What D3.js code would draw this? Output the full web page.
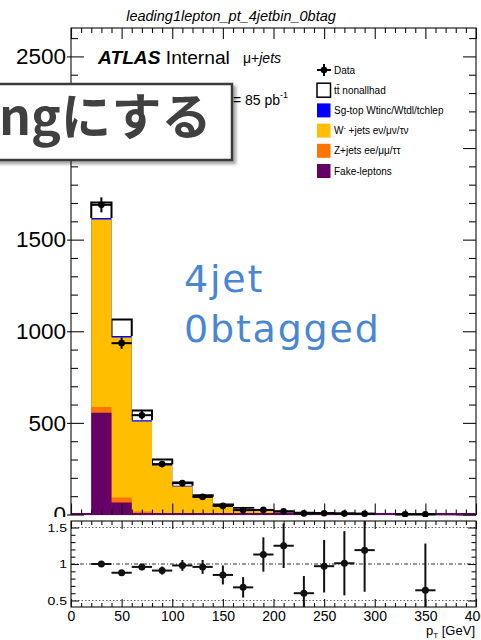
<!DOCTYPE html>
<html><head><meta charset="utf-8">
<script src="https://cdn.jsdelivr.net/npm/d3@7"></script>
<style>html,body{margin:0;padding:0;background:#fff;}svg{display:block}</style>
</head><body>
<svg id="c" width="481" height="640"></svg>
<script>
// Lepton pT, 4-jet / 0-b-tag selection, 20 GeV bins from 20 to 400 GeV
const binCenters = [30,50,70,90,110,130,150,170,190,210,230,250,270,290,310,330,350,370,390];
const binHalfWidth = 10;

// Stacked MC predictions (events per bin), bottom to top
const fakeLeptons = [555,66,5,2,1,0.5,0.3,0,0,0,0,0,0,0,0,0,0,0,0];
const zJets       = [31,27,12,6,4,3,2,1,1,0.5,0.3,0.2,0.2,0.1,0.1,0,0,0,0];
const wJets       = [1024,873,490,260,148,90,42,31,19,11,8,5.5,4,2.8,1.6,1.2,1.3,0.8,0.5];
const singleTop   = [8,8,8,6,4,3,2,1,1,0.5,0.5,0.3,0.2,0.1,0.1,0.1,0.1,0.05,0.05];
const ttbar       = [85,90,52,26,18,8,8,3,2,2,1.2,1,0.7,0.5,0.3,0.2,0.26,0.1,0.1];

// Observed data and its uncertainty (null = bin not drawn)
const dataCounts = [1690,935,542,275,171,96,47,24,25,18,6,7,5,4,null,1,1,null,null];
const dataErrors = [41,31,23,17,13,10,7,5,5,4,2.5,2.6,2.2,2,null,1,1,null,null];

// Data / MC ratio and its uncertainty
const ratioValues = [1.0,0.88,0.96,0.91,0.98,0.96,0.85,0.68,1.13,1.25,0.6,0.97,1.01,1.19,null,null,0.64,null,null];
const ratioErrors = [0.025,0.03,0.045,0.055,0.075,0.095,0.13,0.14,0.235,0.305,0.235,0.36,0.44,0.57,null,null,0.64,null,null];

// Axis ticks
const xMajor = [0,50,100,150,200,250,300,350,400];
const xMinor = [10,20,30,40,60,70,80,90,110,120,130,140,160,170,180,190,210,220,230,240,260,270,280,290,310,320,330,340,360,370,380,390];
const yMainMajor = [0,500,1000,1500,2000,2500];
const yMainLabels = ["0","500","1000","1500","","2500"];
const yMainMinor = [100,200,300,400,600,700,800,900,1100,1200,1300,1400,1600,1700,1800,1900,2100,2200,2300,2400,2600];
const yRatioMajor = [0.5,1,1.5];
const yRatioMinor = [0.6,0.7,0.8,0.9,1.1,1.2,1.3,1.4];

const legendEntries = [
  {type:"data", label:"Data"},
  {type:"box", fill:"#ffffff", label:"tt\u0304 nonallhad"},
  {type:"box", fill:"#0000ff", label:"Sg-top Wtinc/Wtdl/tchlep"},
  {type:"box", fill:"#ffbf00", label:"W", sup:"-", rest:" +jets e\u03bd/\u03bc\u03bd/\u03c4\u03bd"},
  {type:"box", fill:"#ff7300", label:"Z+jets ee/\u03bc\u03bc/\u03c4\u03c4"},
  {type:"box", fill:"#660066", label:"Fake-leptons"}
];

const FONT = "'Liberation Sans', Arial, Helvetica, sans-serif";
const svg = d3.select("#c");
const defs = svg.append("defs");

const x = d3.scaleLinear().domain([0,400]).range([71,476]);
const y = d3.scaleLinear().domain([0,2655]).range([514.5,28]);
const yr = d3.scaleLinear().domain([0.411,1.589]).range([607,521]);

// ---- title
svg.append("text").attr("x",231).attr("y",21).attr("text-anchor","middle")
  .style("font",`italic 14.5px ${FONT}`).text("leading1lepton_pt_4jetbin_0btag");

// ---- stacked histograms
const cum = [];
let running = binCenters.map(()=>0);
[fakeLeptons,zJets,wJets,singleTop,ttbar].forEach(s=>{
  running = running.map((v,i)=>v+s[i]);
  cum.push(running.slice());
});
function stepPoints(tops){
  const pts = binCenters.map((c,i)=>({x:c-binHalfWidth, v:tops[i]}));
  pts.push({x:binCenters[binCenters.length-1]+binHalfWidth, v:tops[tops.length-1]});
  return pts;
}
const area = d3.area().x(d=>x(d.x)).y0(y(0)).y1(d=>y(d.v)).curve(d3.curveStepAfter);

const gStack = svg.append("g");
// ttbar band: white boxes open at the bottom, black top and sides
binCenters.forEach((c,i)=>{
  const x0 = x(c-binHalfWidth), x1 = x(c+binHalfWidth);
  const yb = y(cum[3][i]), yt = y(cum[4][i]);
  gStack.append("rect").attr("x",x0).attr("y",yt).attr("width",x1-x0).attr("height",Math.max(0,yb-yt)).attr("fill","#fff");
  gStack.append("path").attr("d",`M${x0},${yb}L${x0},${yt}L${x1},${yt}L${x1},${yb}`)
    .attr("fill","none").attr("stroke","#000").attr("stroke-width",2);
});
const fills = ["#660066","#ff7300","#ffbf00","#0000ff"];
[3,2,1,0].forEach(k=>{
  gStack.append("path").attr("d",area(stepPoints(cum[k]))).attr("fill",fills[k]);
});

// ---- frame of main panel
svg.append("rect").attr("x",71).attr("y",28).attr("width",405).attr("height",486.5)
  .attr("fill","none").attr("stroke","#222").attr("stroke-width",1.2);
svg.append("line").attr("x1",x(0)).attr("x2",x(400)).attr("y1",y(0)-0.5).attr("y2",y(0)-0.5)
  .attr("stroke","#660066").attr("stroke-width",2);

function styleAxis(g){
  g.select(".domain").remove();
  g.selectAll("line").attr("stroke","#111").attr("stroke-width",1.1);
  return g;
}
// main y axis (left)
styleAxis(svg.append("g").attr("transform","translate(71,0)")
  .call(d3.axisLeft(y).tickValues(yMainMajor).tickSizeInner(-13).tickSizeOuter(0).tickPadding(5)
    .tickFormat((d,i)=>yMainLabels[i])))
  .selectAll("text").style("font",`22.5px ${FONT}`).attr("fill","#000");
styleAxis(svg.append("g").attr("transform","translate(71,0)")
  .call(d3.axisLeft(y).tickValues(yMainMajor).tickSizeInner(4).tickSizeOuter(0).tickFormat("")));
styleAxis(svg.append("g").attr("transform","translate(71,0)")
  .call(d3.axisLeft(y).tickValues(yMainMinor).tickSizeInner(-7).tickSizeOuter(0).tickFormat("")));
// main y axis (right)
styleAxis(svg.append("g").attr("transform","translate(476,0)")
  .call(d3.axisRight(y).tickValues(yMainMajor).tickSizeInner(-13).tickSizeOuter(0).tickFormat("")));
styleAxis(svg.append("g").attr("transform","translate(476,0)")
  .call(d3.axisRight(y).tickValues(yMainMinor).tickSizeInner(-7).tickSizeOuter(0).tickFormat("")));
// main x ticks (top and bottom)
[[d3.axisTop,28],[d3.axisBottom,514.5]].forEach(([fn,yy])=>{
  styleAxis(svg.append("g").attr("transform",`translate(0,${yy})`)
    .call(fn(x).tickValues(xMajor).tickSizeInner(-11).tickSizeOuter(0).tickFormat("")));
  styleAxis(svg.append("g").attr("transform",`translate(0,${yy})`)
    .call(fn(x).tickValues(xMinor).tickSizeInner(-5).tickSizeOuter(0).tickFormat("")));
});

// ---- data points (main)
const gData = svg.append("g").attr("stroke","#000").attr("stroke-width",2);
binCenters.forEach((c,i)=>{
  const v = dataCounts[i]; if(v==null) return;
  const e = dataErrors[i] || 0;
  gData.append("line").attr("x1",x(c-binHalfWidth)).attr("x2",x(c+binHalfWidth)).attr("y1",y(v)).attr("y2",y(v));
  gData.append("line").attr("x1",x(c)).attr("x2",x(c)).attr("y1",y(v-e)).attr("y2",y(v+e));
  gData.append("circle").attr("cx",x(c)).attr("cy",y(v)).attr("r",3.3).attr("fill","#000").attr("stroke","none");
});

// ---- ATLAS label and luminosity
const atl = svg.append("text").attr("x",98).attr("y",64).style("font",`19.2px ${FONT}`);
atl.append("tspan").style("font-weight","bold").style("font-style","italic").text("ATLAS");
atl.append("tspan").text(" Internal");
const ch = svg.append("text").attr("x",243).attr("y",63).style("font",`14px ${FONT}`);
ch.append("tspan").text("\u03bc+");
ch.append("tspan").style("font-style","italic").text("jets");
const lumi = svg.append("text").attr("x",233).attr("y",105).style("font",`14px ${FONT}`);
lumi.append("tspan").text("= 85 pb");
lumi.append("tspan").attr("dy",-7).style("font-size","9px").text("-1");

// ---- legend
const gLeg = svg.append("g").style("font",`10px ${FONT}`);
legendEntries.forEach((d,i)=>{
  const cy = 70 + i*20.2;
  if(d.type==="data"){
    gLeg.append("line").attr("x1",317).attr("x2",331).attr("y1",cy).attr("y2",cy).attr("stroke","#000").attr("stroke-width",2);
    gLeg.append("line").attr("x1",324).attr("x2",324).attr("y1",cy-6).attr("y2",cy+6).attr("stroke","#000").attr("stroke-width",2);
    gLeg.append("circle").attr("cx",324).attr("cy",cy).attr("r",3.3).attr("fill","#000");
  } else {
    gLeg.append("rect").attr("x",317).attr("y",cy-7).attr("width",13.5).attr("height",14)
      .attr("fill",d.fill).attr("stroke",d.fill==="#ffffff"?"#000":"none").attr("stroke-width",1.5);
  }
  const t = gLeg.append("text").attr("x",334).attr("y",cy+3.5);
  t.append("tspan").text(d.label);
  if(d.sup){
    t.append("tspan").attr("dy",-4).style("font-size","7px").text(d.sup);
    t.append("tspan").attr("dy",4).text(d.rest);
  }
});

// ---- selection annotation
const ann = svg.append("g").style("font-family","'DejaVu Sans', sans-serif").style("font-size","38px")
  .style("letter-spacing","1.8px").attr("fill","#4a87d2");
ann.append("text").attr("x",184).attr("y",292).text("4jet");
ann.append("text").attr("x",184).attr("y",342).text("0btagged");

// ---- ratio pad
svg.append("rect").attr("x",0).attr("y",517).attr("width",481).attr("height",123).attr("fill","#fff");
defs.append("clipPath").attr("id","rclip").append("rect")
  .attr("x",71).attr("y",521).attr("width",405).attr("height",86);
const gGrid = svg.append("g");
yRatioMajor.forEach(v=>{
  gGrid.append("line").attr("x1",x(0)).attr("x2",x(400)).attr("y1",yr(v)).attr("y2",yr(v))
    .attr("stroke",v===1?"#333":"#666").attr("stroke-width",1)
    .attr("stroke-dasharray",v===1?"4,2,1,2":"1.5,2");
});
svg.append("rect").attr("x",71).attr("y",521).attr("width",405).attr("height",86)
  .attr("fill","none").attr("stroke","#222").attr("stroke-width",1.2);
const rl = styleAxis(svg.append("g").attr("transform","translate(71,0)")
  .call(d3.axisLeft(yr).tickValues(yRatioMajor).tickSizeInner(-8).tickSizeOuter(0).tickPadding(4).tickFormat(d3.format("~g"))));
rl.selectAll("text").style("font",`14px ${FONT}`).attr("fill","#000").attr("transform","scale(1,0.78)");
styleAxis(svg.append("g").attr("transform","translate(71,0)")
  .call(d3.axisLeft(yr).tickValues(yRatioMinor).tickSizeInner(-4.5).tickSizeOuter(0).tickFormat("")));
styleAxis(svg.append("g").attr("transform","translate(476,0)")
  .call(d3.axisRight(yr).tickValues(yRatioMajor).tickSizeInner(-8).tickSizeOuter(0).tickFormat("")));
styleAxis(svg.append("g").attr("transform","translate(476,0)")
  .call(d3.axisRight(yr).tickValues(yRatioMinor).tickSizeInner(-4.5).tickSizeOuter(0).tickFormat("")));
const rb = styleAxis(svg.append("g").attr("transform","translate(0,607)")
  .call(d3.axisBottom(x).tickValues(xMajor).tickSizeInner(-8).tickSizeOuter(0).tickPadding(4).tickFormat(d3.format("d"))));
rb.selectAll("text").style("font",`14px ${FONT}`).attr("fill","#000");
styleAxis(svg.append("g").attr("transform","translate(0,607)")
  .call(d3.axisBottom(x).tickValues(xMinor).tickSizeInner(-4).tickSizeOuter(0).tickFormat("")));
styleAxis(svg.append("g").attr("transform","translate(0,521)")
  .call(d3.axisTop(x).tickValues(xMajor).tickSizeInner(-8).tickSizeOuter(0).tickFormat("")));
styleAxis(svg.append("g").attr("transform","translate(0,521)")
  .call(d3.axisTop(x).tickValues(xMinor).tickSizeInner(-4).tickSizeOuter(0).tickFormat("")));

const gRatio = svg.append("g").attr("clip-path","url(#rclip)").attr("stroke","#111").attr("stroke-width",2);
binCenters.forEach((c,i)=>{
  const v = ratioValues[i]; if(v==null) return;
  const e = ratioErrors[i];
  gRatio.append("line").attr("x1",x(c-binHalfWidth)).attr("x2",x(c+binHalfWidth)).attr("y1",yr(v)).attr("y2",yr(v));
  gRatio.append("line").attr("x1",x(c)).attr("x2",x(c)).attr("y1",yr(v-e)).attr("y2",yr(v+e));
  gRatio.append("circle").attr("cx",x(c)).attr("cy",yr(v)).attr("r",3.5).attr("fill","#111").attr("stroke","none");
});

const xt = svg.append("text").attr("x",475).attr("y",635).attr("text-anchor","end").style("font",`13px ${FONT}`);
xt.append("tspan").text("p");
xt.append("tspan").attr("dy",2.5).style("font-size","8px").text("T");
xt.append("tspan").attr("dy",-2.5).text(" [GeV]");

// ---- banner on top
const f = defs.append("filter").attr("id","shadow").attr("x","-10%").attr("y","-20%").attr("width","130%").attr("height","150%");
f.append("feDropShadow").attr("dx",3).attr("dy",3).attr("stdDeviation",1.5).attr("flood-color","#000").attr("flood-opacity",0.35);
svg.append("rect").attr("x",-10).attr("y",84).attr("width",242).attr("height",76)
  .attr("fill","#fff").attr("stroke","#3a3a3a").attr("stroke-width",2.5).attr("filter","url(#shadow)");
svg.append("text").attr("x",-1).attr("y",135)
  .style("font-family","'Noto Sans CJK JP', sans-serif").style("font-weight","bold").style("font-size","50px")
  .attr("fill","#404040").text("ngにする");
</script>
</body></html>
